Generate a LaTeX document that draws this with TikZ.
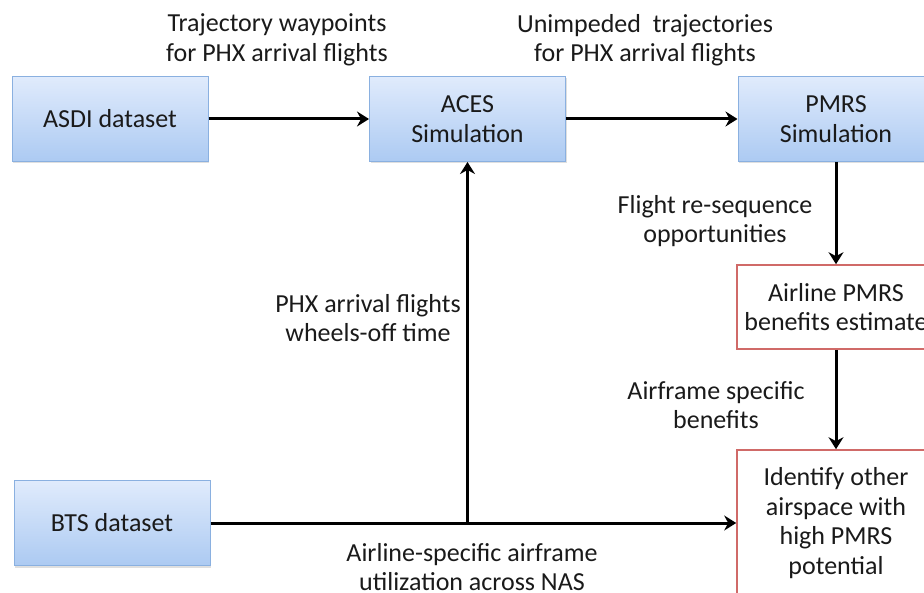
\documentclass[tikz,border=0pt]{standalone}
\usepackage{fontspec}
\setmainfont{Carlito}
\usetikzlibrary{arrows.meta,shadows}
\definecolor{bluetop}{HTML}{E0EBFC}
\definecolor{bluebot}{HTML}{ACCAF2}
\definecolor{blueedge}{HTML}{8AB0E0}
\definecolor{rededge}{HTML}{D06A68}
\definecolor{txt}{HTML}{1A1A1A}
\begin{document}
\begin{tikzpicture}[x=1pt,y=-1pt,
  font=\fontsize{26}{29.5}\selectfont, text=txt,
  bluebox/.style={draw=blueedge, line width=1pt, top color=bluetop, bottom color=bluebot,
    minimum width=196pt, minimum height=85pt, align=center, inner sep=0pt,
    execute at begin node={\vspace*{6pt}},
    drop shadow={shadow xshift=1pt, shadow yshift=-2pt, opacity=0.25}},
  redbox/.style={draw=rededge, line width=1.6pt, fill=white, minimum width=198pt,
    align=center, inner sep=0pt},
  arr/.style={line width=3pt, -{Stealth[length=12pt,width=15pt,inset=4pt]}},
  plain/.style={line width=3pt},
  lbl/.style={align=center, inner sep=0pt}]
\useasboundingbox (0,0) rectangle (924,593);

\node[bluebox] (asdi) at (110,119) {ASDI dataset};
\node[bluebox] (aces) at (467.5,119) {ACES\\Simulation};
\node[bluebox] (pmrs) at (836,119) {PMRS\\Simulation};
\node[redbox, minimum height=84pt, execute at begin node={\vspace*{6pt}}] (est) at (836,307) {Airline PMRS\\benefits estimate};
\node[redbox, minimum height=146pt] (ident) at (836,523) {Identify other\\airspace with\\high PMRS\\potential};
\node[bluebox] (bts) at (112,523) {BTS dataset};

\draw[arr] (asdi) -- (aces);
\draw[arr] (aces) -- (pmrs);
\draw[arr] (pmrs) -- (est);
\draw[arr] (est) -- (ident);
\coordinate (j) at (bts.east -| aces.south);
\draw[plain] (bts.east) -- (j);
\draw[arr] (j) -- (bts.east -| ident.west);
\draw[arr] ([yshift=1.5pt]j) -- (aces.south);

\node[lbl] (l1) at (277,40) {Trajectory waypoints\\for PHX arrival flights};
\node[lbl] (l2) at (645,40) {Unimpeded\ \ trajectories\\for PHX arrival flights};
\node[lbl] (l3) at (715,221) {Flight re-sequence\\opportunities};
\node[lbl] (l4) at (368,318) {PHX arrival flights\\wheels-off time};
\node[lbl] (l5) at (716,405) {Airframe specific\\benefits};
\node[lbl] (l6) at (472,567) {Airline-specific airframe\\utilization across NAS};
\end{tikzpicture}
\end{document}
